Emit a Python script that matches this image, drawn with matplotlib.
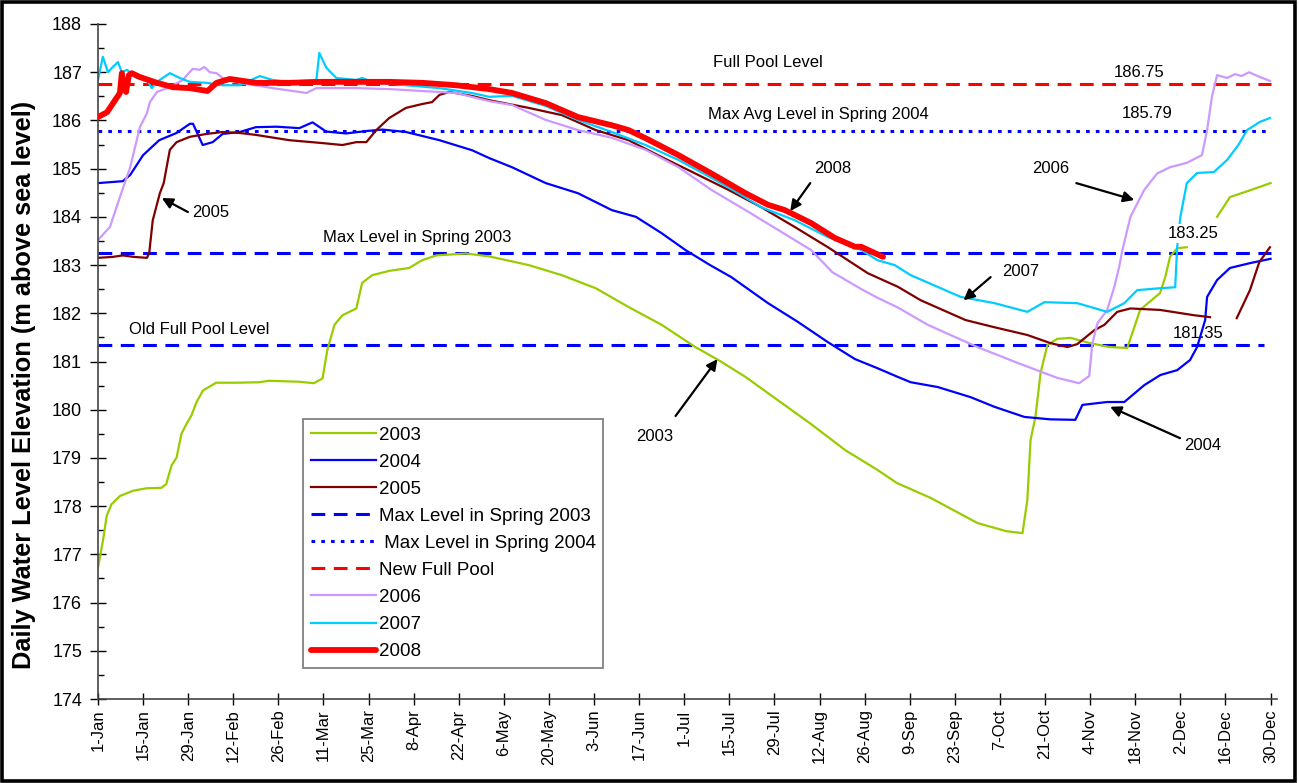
import numpy as np
import matplotlib
matplotlib.use('Agg')
import matplotlib.pyplot as plt
from matplotlib.patches import Rectangle

plt.rcParams['font.family'] = ['Liberation Sans', 'DejaVu Sans']

nan = np.nan

tick_labels = ['1-Jan', '15-Jan', '29-Jan', '12-Feb', '26-Feb', '11-Mar', '25-Mar', '8-Apr',
               '22-Apr', '6-May', '20-May', '3-Jun', '17-Jun', '1-Jul', '15-Jul', '29-Jul',
               '12-Aug', '26-Aug', '9-Sep', '23-Sep', '7-Oct', '21-Oct', '4-Nov', '18-Nov',
               '2-Dec', '16-Dec', '30-Dec']

d03 = [1, 2.6, 3.7, 5.2, 7.8, 11.9, 16, 20.7, 22.2, 23.8, 25.4, 26.9, 28.5, 30, 31.6, 33.6, 37.7,
       44, 51, 54, 63.5, 68, 70.7, 72.2, 74.4, 76.9, 81.2, 83, 86.1, 91.4, 97.6, 101.6, 106, 115.2,
       122.4, 134.7, 145, 155.5, 165.7, 176, 186.4, 193.6, 202, 212, 222, 233, 243, 249, 259.5,
       274, 283, 288, 289.5, 290.5, 292, 293.6, 295.7, 298.8, 302.9, 309, 315, 320.5, 322.7,
       324.5, 330.7, 332.3, 333.8, 336, 339, 343, 348.4, 352.4, 358.6, 365]
v03 = [176.72, 177.31, 177.8, 178.04, 178.21, 178.32, 178.37, 178.38, 178.46, 178.84, 179.01,
       179.5, 179.71, 179.88, 180.16, 180.4, 180.56, 180.56, 180.57, 180.6, 180.58, 180.55,
       180.65, 181.24, 181.76, 181.96, 182.1, 182.63, 182.79, 182.88, 182.94, 183.1, 183.2,
       183.24, 183.18, 183.0, 182.79, 182.52, 182.13, 181.76, 181.3, 181.03, 180.68, 180.2,
       179.72, 179.16, 178.75, 178.48, 178.17, 177.65, 177.48, 177.44, 178.13, 179.37, 179.85,
       180.76, 181.34, 181.47, 181.49, 181.38, 181.3, 181.28, 181.71, 182.07, 182.42, 182.75,
       183.17, 183.35, 183.37, nan, 184.0, 184.41, 184.55, 184.7]

d04 = [1, 8.7, 11, 15, 20, 25.4, 29.5, 30.5, 33.5, 36.6, 39.7, 45, 50, 56.4, 63.5, 67.6, 71.8,
       78, 84.3, 89.3, 96.6, 107, 117.2, 122.4, 129.5, 140, 150, 160.5, 168, 176, 183.4, 191,
       197.6, 209, 218.3, 227.6, 236, 243, 249.3, 253.3, 261.7, 271.9, 279.3, 288.6, 296.7,
       304.4, 306.6, 314.3, 319.6, 325.8, 330.8, 336, 340, 342.2, 344.7, 345.3, 348.4, 352.4,
       358.6, 365]
v04 = [184.7, 184.74, 184.87, 185.28, 185.59, 185.74, 185.93, 185.93, 185.49, 185.55, 185.72,
       185.76, 185.86, 185.87, 185.84, 185.96, 185.77, 185.73, 185.78, 185.81, 185.76, 185.59,
       185.38, 185.22, 185.03, 184.7, 184.49, 184.14, 184.0, 183.66, 183.31, 183.0, 182.75,
       182.21, 181.82, 181.4, 181.05, 180.86, 180.68, 180.57, 180.47, 180.26, 180.06, 179.85,
       179.8, 179.79, 180.1, 180.16, 180.16, 180.51, 180.72, 180.82, 181.03, 181.3, 181.86,
       182.34, 182.69, 182.94, 183.04, 183.13]

d05 = [1, 5.6, 8.7, 12, 16.2, 16.9, 18, 20.2, 21.4, 23.3, 25.4, 29.5, 34.7, 39.7, 45, 50, 60.4,
       70.7, 76.9, 81.2, 84.3, 87.4, 91.4, 96.6, 101.6, 104.7, 107, 110, 117, 122.4, 134.7, 145,
       155.5, 165.7, 176, 186.4, 196.7, 206.9, 217.3, 227.6, 240, 249.3, 256.4, 270.3, 279.3,
       289.5, 296.7, 301.9, 305, 310.3, 313.4, 317.4, 321.5, 330.7, 341.2, 346.2, 350, 354.5,
       358.6, 361.5, 364.8]
v05 = [183.15, 183.17, 183.2, 183.17, 183.15, 183.25, 183.93, 184.49, 184.7, 185.39, 185.55,
       185.66, 185.72, 185.76, 185.74, 185.7, 185.59, 185.53, 185.49, 185.55, 185.55, 185.8,
       186.05, 186.26, 186.34, 186.38, 186.53, 186.59, 186.51, 186.42, 186.26, 186.11, 185.8,
       185.59, 185.24, 184.9, 184.56, 184.2, 183.79, 183.37, 182.83, 182.55, 182.27, 181.86,
       181.71, 181.55, 181.38, 181.3, 181.36, 181.65, 181.76, 182.03, 182.1, 182.07, 181.96,
       181.92, nan, 181.9, 182.48, 183.06, 183.37]

d06 = [1, 4.7, 7.8, 11, 14, 16.2, 17.1, 19.3, 23.3, 27.3, 30.4, 32.6, 34, 35.7, 37.8, 39.7, 45,
       55.2, 65.7, 68.8, 81.2, 91.4, 101.6, 112.1, 122.4, 129.5, 140, 150, 160.5, 171, 181.2,
       191.4, 202, 212.1, 222.4, 229, 238, 243, 249.3, 258.6, 274, 286.5, 298.8, 305.6, 308.7,
       309.7, 311.3, 314.3, 316.5, 318, 319, 321.5, 325.8, 329.8, 333.8, 339, 343.7, 345.3,
       346.8, 348.4, 351.5, 354, 356, 358.3, 361.7, 364.8]
v06 = [183.52, 183.79, 184.41, 185.03, 185.86, 186.15, 186.38, 186.59, 186.69, 186.84, 187.07,
       187.05, 187.11, 187.0, 186.98, 186.88, 186.78, 186.67, 186.57, 186.67, 186.67, 186.65,
       186.61, 186.57, 186.4, 186.32, 186.01, 185.8, 185.64, 185.39, 185.03, 184.56, 184.14,
       183.73, 183.31, 182.85, 182.5, 182.32, 182.12, 181.76, 181.3, 180.97, 180.66, 180.55,
       180.7, 181.38, 181.8, 182.07, 182.55, 182.96, 183.31, 184.0, 184.56, 184.9, 185.03,
       185.12, 185.28, 185.8, 186.49, 186.94, 186.88, 186.96, 186.92, 187.0, 186.9, 186.82]

d07 = [1, 2.5, 4.1, 5.6, 7.2, 8.4, 10, 13, 16.2, 17.7, 19.3, 23.3, 26.4, 29.5, 34.7, 39.7, 45,
       51.2, 55.2, 60.4, 68.8, 69.7, 71.9, 75, 81.2, 83, 86.1, 96.6, 107, 117, 122.4, 129.5, 140,
       150, 160.5, 171, 181.2, 191.4, 199.8, 206.9, 217.3, 227.6, 238, 243, 248.3, 253.3, 268.8,
       279.3, 289.5, 294.8, 305, 314.3, 319.6, 323.6, 330.7, 335.4, 336, 337, 339, 342.2, 347.4,
       351.5, 355, 357.7, 361.7, 364.8]
v07 = [186.84, 187.32, 187.0, 187.11, 187.21, 187.0, 187.05, 186.88, 186.84, 186.67, 186.8,
       186.98, 186.88, 186.8, 186.78, 186.73, 186.73, 186.92, 186.84, 186.8, 186.84, 187.4,
       187.09, 186.88, 186.84, 186.88, 186.8, 186.73, 186.67, 186.57, 186.49, 186.51, 186.3,
       186.01, 185.76, 185.49, 185.18, 184.81, 184.49, 184.2, 183.93, 183.58, 183.31, 183.1,
       183.0, 182.79, 182.34, 182.21, 182.03, 182.23, 182.21, 182.03, 182.21, 182.48, 182.52,
       182.54, 183.37, 184.0, 184.7, 184.91, 184.93, 185.18, 185.49, 185.8, 185.97, 186.05]

d08 = [1, 3.8, 6.3, 7.8, 8.4, 9, 9.7, 10.6, 11.5, 14, 19.3, 24.2, 29.5, 35, 37.8, 41.9, 45.9,
       50, 60.4, 70.7, 81.2, 91.4, 101.6, 112.1, 122.4, 129.5, 140, 150, 160.5, 165.7, 171,
       181.2, 191.4, 202, 209, 214.2, 222.4, 229.8, 236, 237.9, 244.7]
v08 = [186.07, 186.17, 186.42, 186.57, 186.98, 186.69, 186.59, 186.94, 186.98, 186.9, 186.78,
       186.69, 186.67, 186.61, 186.78, 186.86, 186.82, 186.78, 186.78, 186.8, 186.8, 186.8,
       186.78, 186.73, 186.65, 186.57, 186.36, 186.07, 185.9, 185.8, 185.63, 185.28, 184.9,
       184.49, 184.25, 184.14, 183.87, 183.56, 183.38, 183.38, 183.17]

full_pool = 186.75
max_spring_2004 = 185.79
max_spring_2003 = 183.25
old_full_pool = 181.35

fig = plt.figure(figsize=(12.99, 7.83), dpi=100)
ax = fig.add_axes([98 / 1299, 1 - 699 / 783, 1179 / 1299, 675 / 783])

# reference lines
l_sp03, = ax.plot([1, 365], [max_spring_2003] * 2, color='#0000FF', lw=2.2, dashes=(4.5, 2.8), zorder=1)
l_sp04, = ax.plot([1, 365], [max_spring_2004] * 2, color='#0000FF', lw=2.2, dashes=(1.2, 2.0), zorder=1)
l_full, = ax.plot([1, 365], [full_pool] * 2, color='#FF0000', lw=2.2, dashes=(4.5, 2.8), zorder=1)
ax.plot([1, 363], [old_full_pool] * 2, color='#0000FF', lw=2.2, dashes=(4.5, 2.8), zorder=1)

l03, = ax.plot(d03, v03, color='#99CC00', lw=1.6, zorder=2)
l04, = ax.plot(d04, v04, color='#0000FF', lw=1.6, zorder=2)
l05, = ax.plot(d05, v05, color='#800000', lw=1.6, zorder=2)
l06, = ax.plot(d06, v06, color='#CC99FF', lw=1.6, zorder=2)
l07, = ax.plot(d07, v07, color='#00CCFF', lw=1.6, zorder=2)
l08, = ax.plot(d08, v08, color='#FF0000', lw=4.2, zorder=3, solid_capstyle='round')

ax.set_xlim(1, 367)
ax.set_ylim(174, 188)
ax.set_xticks(list(range(1, 366, 14)))
ax.set_xticklabels(tick_labels, rotation=90, fontsize=12)
ax.set_yticks(np.arange(174, 189, 1))
ax.set_yticks(np.arange(174.5, 188, 1), minor=True)
ax.tick_params(axis='y', which='major', direction='inout', length=11, width=1, labelsize=13, pad=6)
ax.tick_params(axis='y', which='minor', direction='in', length=4, width=1)
ax.tick_params(axis='x', which='major', direction='inout', length=9, width=1, pad=3)
for s in ['top', 'right']:
    ax.spines[s].set_visible(False)
for s in ['left', 'bottom']:
    ax.spines[s].set_color('#444444')
    ax.spines[s].set_linewidth(1.2)

ax.set_ylabel('Daily Water Level Elevation (m above sea level)', fontsize=18.3, fontweight='bold')
ax.yaxis.set_label_coords(-0.053, 0.465)

# labels for reference lines
ax.text(209, 187.21, 'Full Pool Level', fontsize=12, ha='center', va='center')
ax.text(324.2, 187.0, '186.75', fontsize=12, ha='center', va='center')
ax.text(224.5, 186.13, 'Max Avg Level in Spring 2004', fontsize=12, ha='center', va='center')
ax.text(326.7, 186.15, '185.79', fontsize=12, ha='center', va='center')
ax.text(100, 183.58, 'Max Level in Spring 2003', fontsize=12, ha='center', va='center')
ax.text(341, 183.66, '183.25', fontsize=12, ha='center', va='center', zorder=5,
        bbox=dict(facecolor='white', edgecolor='none', pad=1.5))
ax.text(32.3, 181.67, 'Old Full Pool Level', fontsize=12, ha='center', va='center')
ax.text(342.5, 181.59, '181.35', fontsize=12, ha='center', va='center')

arrow = dict(arrowstyle='-|>', color='black', lw=1.6, mutation_scale=16, shrinkA=0, shrinkB=0)
ax.annotate('', xy=(20.8, 184.39), xytext=(28.9, 184.1), arrowprops=arrow)
ax.text(36, 184.1, '2005', fontsize=12, ha='center', va='center')
ax.annotate('', xy=(215.9, 184.12), xytext=(222.1, 184.70), arrowprops=arrow)
ax.text(229.2, 185.01, '2008', fontsize=12, ha='center', va='center')
ax.annotate('', xy=(322.7, 184.35), xytext=(304.7, 184.70), arrowprops=arrow)
ax.text(296.7, 185.01, '2006', fontsize=12, ha='center', va='center')
ax.annotate('', xy=(269.7, 182.27), xytext=(278.1, 182.75), arrowprops=arrow)
ax.text(287.4, 182.86, '2007', fontsize=12, ha='center', va='center')
ax.annotate('', xy=(193.3, 181.05), xytext=(180.3, 179.87), arrowprops=arrow)
ax.text(173.8, 179.45, '2003', fontsize=12, ha='center', va='center')
ax.annotate('', xy=(315.2, 180.06), xytext=(336.9, 179.41), arrowprops=arrow)
ax.text(344, 179.25, '2004', fontsize=12, ha='center', va='center')

handles = [l03, l04, l05, l_sp03, l_sp04, l_full, l06, l07, l08]
labels = ['2003', '2004', '2005', 'Max Level in Spring 2003', ' Max Level in Spring 2004',
          'New Full Pool', '2006', '2007', '2008']
leg = ax.legend(handles, labels, loc='upper left', bbox_to_anchor=(0.1739, 0.4148),
                borderaxespad=0, fontsize=13.5, handlelength=3.5, handletextpad=0.15,
                labelspacing=0.53, borderpad=0.4, fancybox=False, framealpha=1,
                edgecolor='#808080')
leg.get_frame().set_linewidth(1.3)

fig.patches.append(Rectangle((0.0015, 0.003), 0.9955, 0.994, transform=fig.transFigure,
                             fill=False, edgecolor='black', lw=2.6, zorder=10))

fig.savefig('out.png', dpi=100, facecolor='white')
